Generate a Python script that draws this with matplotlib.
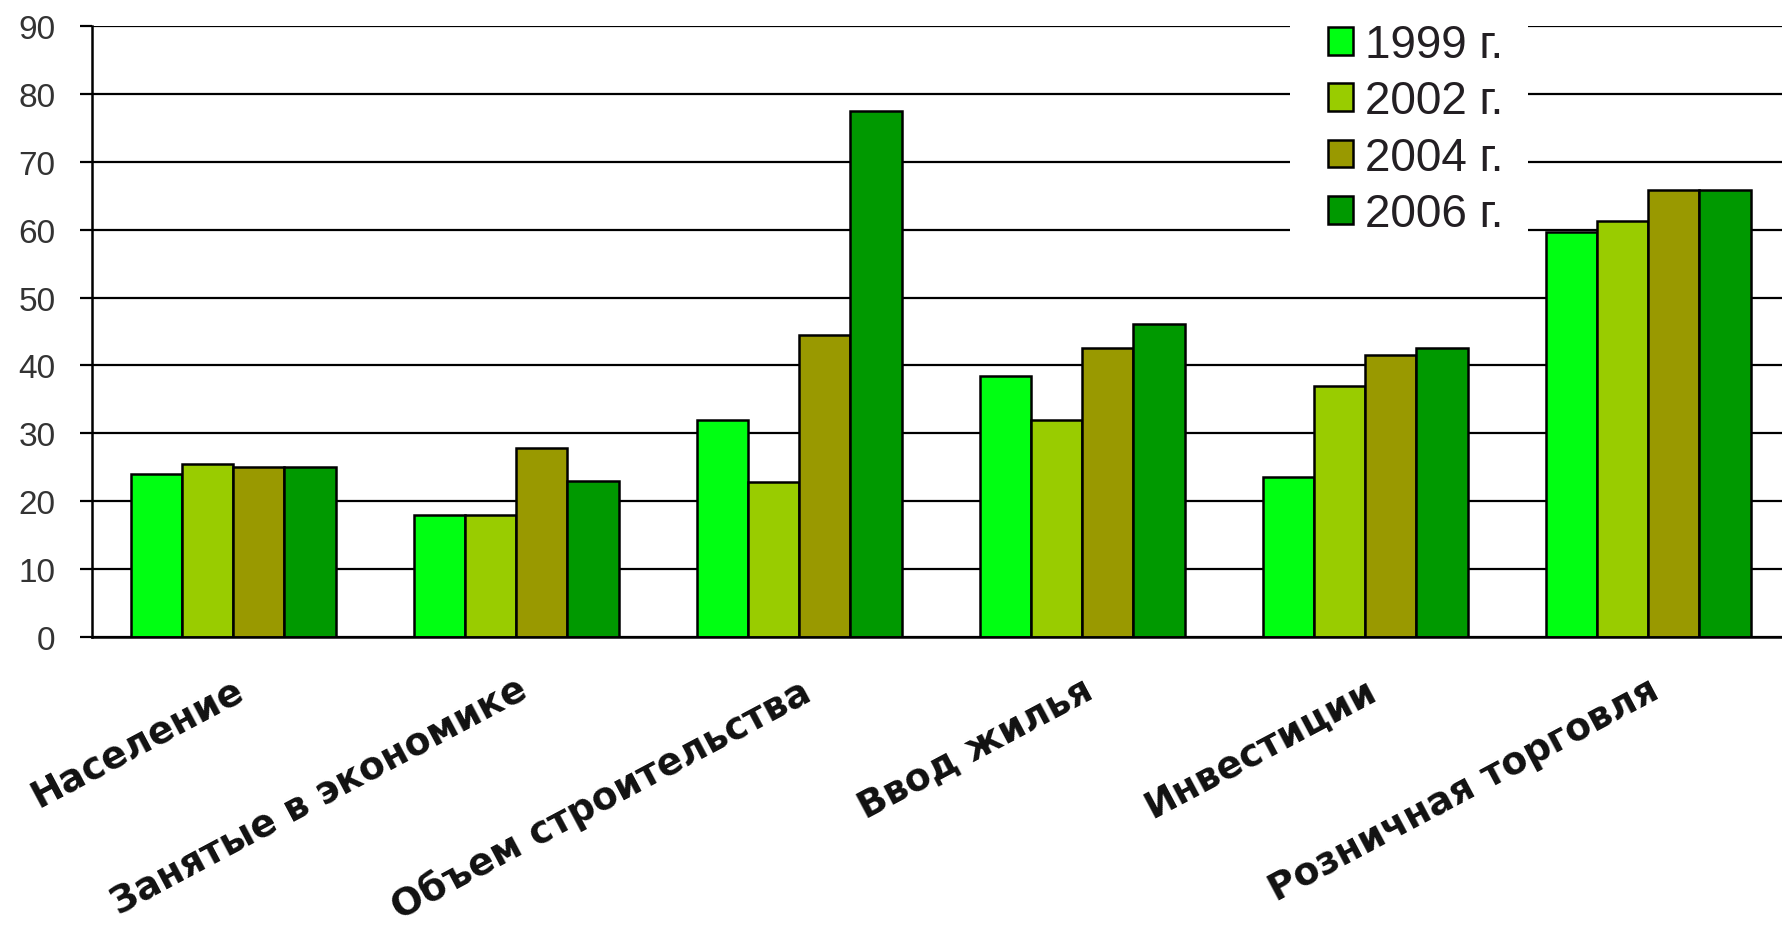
import numpy as np
import matplotlib
matplotlib.use('Agg')
import matplotlib.pyplot as plt
from matplotlib.patches import Rectangle

# data
categories = ['Население', 'Занятые в экономике', 'Объем строительства',
              'Ввод жилья', 'Инвестиции', 'Розничная торговля']
years = ['1999 г.', '2002 г.', '2004 г.', '2006 г.']
v1999 = [24.0, 17.9, 32.0, 38.5, 23.5, 59.6]
v2002 = [25.5, 17.9, 22.9, 32.0, 37.0, 61.3]
v2004 = [25.0, 27.9, 44.5, 42.6, 41.5, 65.8]
v2006 = [25.0, 23.0, 77.5, 46.1, 42.5, 65.8]
yticks = list(range(0, 100, 10))

colors = ['#00ff12', '#99cc00', '#999900', '#009900']
series = [v1999, v2002, v2004, v2006]

W, H = 1783, 937
fig = plt.figure(figsize=(W / 100, H / 100), dpi=100)
ax = fig.add_axes([91.7 / W, 1 - 638 / H, 1698 / W, (638 - 27) / H])

x = np.arange(len(categories))
bw = 0.181
for j, (vals, c) in enumerate(zip(series, colors)):
    ax.bar(x + (j - 1.5) * bw, vals, bw, color=c, edgecolor='black',
           linewidth=1.8, zorder=2, label=years[j])

ax.set_xlim(-0.5, 5.5)
ax.set_ylim(0, 90)
ax.set_yticks(yticks)
ax.yaxis.grid(True, color='black', linewidth=1.6)
ax.set_axisbelow(True)
for s in ['top', 'right']:
    ax.spines[s].set_visible(False)
for s in ['left', 'bottom']:
    ax.spines[s].set_linewidth(1.8)
    ax.spines[s].set_zorder(3)

ax.tick_params(axis='y', length=8.6, width=1.6, pad=17.5, labelsize=24,
               labelcolor='#333333')
for t in ax.get_yticklabels():
    t.set_family('Liberation Sans')

ax.set_xticks(x)
ax.set_xticklabels(categories, rotation=28, ha='right', va='top',
                   rotation_mode='anchor', fontsize=27, fontweight='bold',
                   family='DejaVu Sans', color='#111111')
ax.tick_params(axis='x', length=0, pad=25)

# white box behind the legend (hides grid lines there)
ax.add_patch(Rectangle((1290 / W, 1 - 245 / H), (1528 - 1290) / W, 235 / H,
                       transform=fig.transFigure, facecolor='white',
                       edgecolor='none', zorder=2.5, clip_on=False))

leg = ax.legend(loc='upper left', bbox_to_anchor=(1328 / W, 1 - 24 / H),
                bbox_transform=fig.transFigure, frameon=False,
                borderpad=0, borderaxespad=0, handlelength=0.55,
                handleheight=0.55, handletextpad=0.26, labelspacing=0.27,
                prop={'family': ['Liberation Sans Narrow', 'Liberation Sans'],
                      'size': 33})
leg.set_zorder(4)
for t in leg.get_texts():
    t.set_color('#231f23')

fig.savefig('out.png', dpi=100, facecolor='white')
